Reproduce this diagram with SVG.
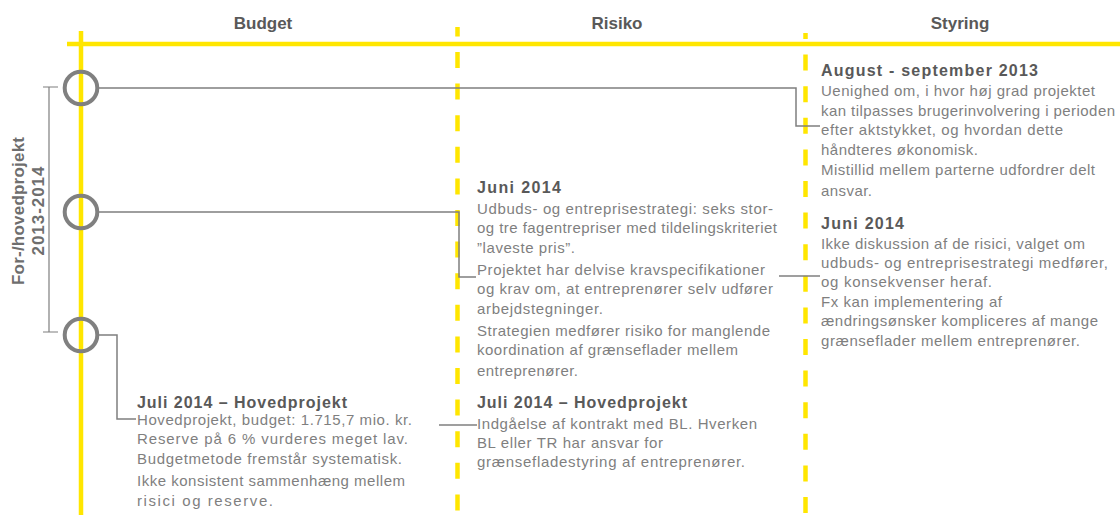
<svg xmlns="http://www.w3.org/2000/svg" width="1120" height="515" viewBox="0 0 1120 515">
<defs>
<style>
.hdr{font-family:"Liberation Sans",Arial,sans-serif;font-size:17px;font-weight:bold;fill:#595959;text-anchor:middle}
.ttl{font-family:"Liberation Sans",Arial,sans-serif;font-size:16px;font-weight:bold;fill:#595959}
.txt{font-family:"Liberation Sans",Arial,sans-serif;font-size:15px;fill:#7f7f7f}
.side{font-family:"Liberation Sans",Arial,sans-serif;font-size:17px;font-weight:bold;fill:#6e6e6e;text-anchor:middle}
.yl{stroke:#FFE600;stroke-width:4.5;fill:none}
.yd{stroke:#FFE600;stroke-width:4.5;fill:none;stroke-dasharray:16 15.6}
.ring{stroke:#808080;stroke-width:4;fill:#ffffff;fill-opacity:0}
.con{stroke:#7f7f7f;stroke-width:1.5;fill:none}
.brk{stroke:#7f7f7f;stroke-width:1.2;fill:none}
</style>
</defs>
<rect width="1120" height="515" fill="#ffffff"/>
<g id="grid">
<line class="yl" x1="67" y1="44" x2="1120" y2="44"/>
<line class="yl" x1="81" y1="31" x2="81" y2="515"/>
<line class="yd" x1="457.5" y1="27" x2="457.5" y2="515" stroke-dashoffset="6.6"/>
<line class="yd" x1="805.5" y1="33" x2="805.5" y2="515" stroke-dashoffset="10"/>
</g>
<g id="headers">
<text class="hdr" x="263" y="29">Budget</text>
<text class="hdr" x="617" y="29">Risiko</text>
<text class="hdr" x="960" y="29">Styring</text>
</g>
<g id="period">
<path class="brk" d="M43,87 H58 M49,87 V332 M43,332 H58"/>
<text class="side" transform="translate(24,211) rotate(-90)" textLength="148" lengthAdjust="spacing">For-/hovedprojekt</text>
<text class="side" transform="translate(44,211) rotate(-90)" textLength="89" lengthAdjust="spacing">2013-2014</text>
</g>
<g id="connectors">
<path class="con" d="M99,88 H796 V126 H820"/>
<path class="con" d="M99,212 H459 V277 H476"/>
<path class="con" d="M779,276 H820"/>
<path class="con" d="M99,335 H117 V419 H136"/>
<path class="con" d="M439,425 H477"/>
</g>
<g id="node-circle-1"><circle class="ring" cx="81" cy="88" r="16.3"/></g>
<g id="node-circle-2"><circle class="ring" cx="81" cy="212" r="16.3"/></g>
<g id="node-circle-3"><circle class="ring" cx="81" cy="335" r="16.3"/></g>
<g id="node-styring-aug2013">
<text class="ttl" x="821" y="76" textLength="217" lengthAdjust="spacing">August  - september 2013</text>
<text class="txt" x="821" y="96" textLength="274" lengthAdjust="spacing">Uenighed om, i hvor høj grad projektet</text>
<text class="txt" x="821" y="116" textLength="294" lengthAdjust="spacing">kan tilpasses brugerinvolvering i perioden</text>
<text class="txt" x="821" y="135" textLength="242" lengthAdjust="spacing">efter aktstykket, og hvordan dette</text>
<text class="txt" x="821" y="155" textLength="157" lengthAdjust="spacing">håndteres økonomisk.</text>
<text class="txt" x="821" y="175" textLength="274" lengthAdjust="spacing">Mistillid mellem parterne udfordrer delt</text>
<text class="txt" x="821" y="196" textLength="51" lengthAdjust="spacing">ansvar.</text>
</g>
<g id="node-styring-jun2014">
<text class="ttl" x="821" y="229" textLength="83" lengthAdjust="spacing">Juni 2014</text>
<text class="txt" x="821" y="249" textLength="264" lengthAdjust="spacing">Ikke diskussion af de risici, valget om</text>
<text class="txt" x="821" y="268" textLength="287" lengthAdjust="spacing">udbuds- og entreprisestrategi medfører,</text>
<text class="txt" x="821" y="287" textLength="171" lengthAdjust="spacing">og konsekvenser heraf.</text>
<text class="txt" x="821" y="307" textLength="181" lengthAdjust="spacing">Fx kan implementering af</text>
<text class="txt" x="821" y="326" textLength="277" lengthAdjust="spacing">ændringsønsker kompliceres af mange</text>
<text class="txt" x="821" y="346" textLength="259" lengthAdjust="spacing">grænseflader mellem entreprenører.</text>
</g>
<g id="node-risiko-jun2014">
<text class="ttl" x="477" y="193" textLength="84" lengthAdjust="spacing">Juni 2014</text>
<text class="txt" x="477" y="214" textLength="296" lengthAdjust="spacing">Udbuds- og entreprisestrategi: seks stor-</text>
<text class="txt" x="477" y="233" textLength="300" lengthAdjust="spacing">og tre fagentrepriser med tildelingskriteriet</text>
<text class="txt" x="477" y="253" textLength="98" lengthAdjust="spacing">”laveste pris”.</text>
<text class="txt" x="477" y="275" textLength="288" lengthAdjust="spacing">Projektet har delvise kravspecifikationer</text>
<text class="txt" x="477" y="294" textLength="296" lengthAdjust="spacing">og krav om, at entreprenører selv udfører</text>
<text class="txt" x="477" y="314" textLength="126" lengthAdjust="spacing">arbejdstegninger.</text>
<text class="txt" x="477" y="336" textLength="293" lengthAdjust="spacing">Strategien medfører risiko for manglende</text>
<text class="txt" x="477" y="355" textLength="261" lengthAdjust="spacing">koordination af grænseflader mellem</text>
<text class="txt" x="477" y="376" textLength="101" lengthAdjust="spacing">entreprenører.</text>
</g>
<g id="node-risiko-jul2014">
<text class="ttl" x="477" y="408" textLength="210" lengthAdjust="spacing">Juli 2014 – Hovedprojekt</text>
<text class="txt" x="477" y="429" textLength="280" lengthAdjust="spacing">Indgåelse af kontrakt med BL. Hverken</text>
<text class="txt" x="477" y="448" textLength="186" lengthAdjust="spacing">BL eller TR har ansvar for</text>
<text class="txt" x="477" y="467" textLength="268" lengthAdjust="spacing">grænsefladestyring af entreprenører.</text>
</g>
<g id="node-budget-jul2014">
<text class="ttl" x="137" y="408" textLength="210" lengthAdjust="spacing">Juli 2014 – Hovedprojekt</text>
<text class="txt" x="137" y="425" textLength="275" lengthAdjust="spacing">Hovedprojekt, budget: 1.715,7 mio. kr.</text>
<text class="txt" x="137" y="444" textLength="271" lengthAdjust="spacing">Reserve på 6 % vurderes meget lav.</text>
<text class="txt" x="137" y="464" textLength="265" lengthAdjust="spacing">Budgetmetode fremstår systematisk.</text>
<text class="txt" x="137" y="486" textLength="268" lengthAdjust="spacing">Ikke konsistent sammenhæng mellem</text>
<text class="txt" x="137" y="506" textLength="136" lengthAdjust="spacing">risici og reserve.</text>
</g>
</svg>
